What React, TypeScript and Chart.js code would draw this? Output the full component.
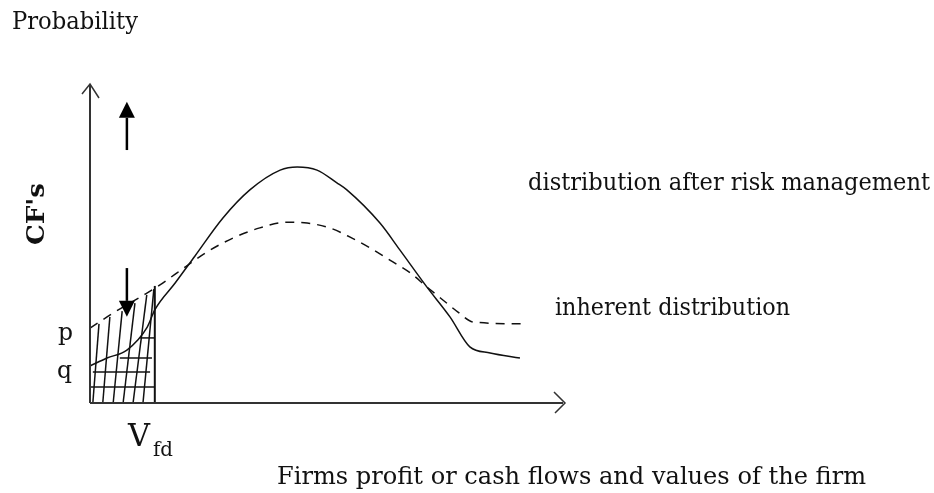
import React, { useEffect, useRef } from "react";
import { Chart, registerables } from "chart.js";

Chart.register(...registerables);

// Curves (x: position along the value axis, y: probability), both on a 0–100 scale
const solidX = [0, 3.6, 7.8, 12.1, 13.7, 18.0, 22.2, 28.1, 33.8, 40.2, 43.8, 48.0, 52.2, 54.3, 61.3, 65.5, 71.2, 76.1, 80.3, 84.6, 90.9];
const solidY = [11.6, 14.1, 16.6, 23.8, 29.2, 37.6, 46.1, 58.0, 66.8, 73.0, 74.0, 73.0, 69.0, 66.8, 56.4, 48.0, 36.4, 27.0, 17.6, 15.7, 14.1];
const dashedX = [0, 4.9, 10.6, 14.8, 18.4, 24.7, 30.2, 35.9, 41.6, 45.9, 50.7, 55.0, 59.2, 63.4, 67.7, 71.2, 74.6, 77.8, 81.0, 91.5];
const dashedY = [23.5, 28.2, 33.2, 37.0, 40.8, 47.3, 51.7, 54.9, 56.7, 56.4, 54.9, 52.0, 48.6, 44.8, 40.8, 36.4, 32.3, 28.5, 25.4, 24.8];

// Hatching below V_fd: slanted lines [x0, y0, x1, y1]
const slantHatch = [
  [0.6, 0, 1.9, 24.8],
  [2.7, 0, 4.2, 27.0],
  [4.9, 0, 6.8, 28.8],
  [7.0, 0, 9.5, 31.3],
  [9.1, 0, 12.0, 33.9],
  [11.2, 0, 13.5, 35.7],
];
// Horizontal hatch lines [y, xFrom, xTo]
const flatHatch = [
  [5.0, 0, 13.7],
  [9.7, 0.6, 12.7],
  [14.1, 6.3, 13.1],
  [20.4, 10.6, 13.7],
];
// V_fd boundary [x, yTop]
const vfdLine = [13.7, 36.7];

// Arrows [x, yFrom, yTip]
const upArrow = [7.8, 79.3, 94.4];
const downArrow = [7.8, 42.3, 27.0];

const axisMax = [100, 100];

const yTitle = "Probability";
const yLabel = "CF's";
const xTitle = "Firms profit or cash flows and values of the firm";
const solidLabel = "distribution after risk management";
const dashedLabel = "inherent distribution";
const pLabel = "p";
const qLabel = "q";
const vLabel = "V";
const vSub = "fd";

const INK = "#111";
const FAMILY = '"DejaVu Serif", serif';

function fitText(
  ctx: CanvasRenderingContext2D,
  text: string,
  x: number,
  y: number,
  width: number,
  size: number,
  weight = "normal",
  rotate = 0
) {
  ctx.save();
  ctx.font = `${weight} ${size}px ${FAMILY}`;
  const w = ctx.measureText(text).width;
  ctx.translate(x, y);
  if (rotate) ctx.rotate(rotate);
  ctx.scale(width / w, 1);
  ctx.fillStyle = INK;
  ctx.textBaseline = "alphabetic";
  ctx.textAlign = "left";
  ctx.fillText(text, 0, 0);
  ctx.restore();
}

const decorPlugin = {
  id: "decor",
  afterDatasetsDraw(chart: any) {
    const ctx: CanvasRenderingContext2D = chart.ctx;
    const xs = chart.scales.x;
    const ys = chart.scales.y;
    const X = (v: number) => xs.getPixelForValue(v);
    const Y = (v: number) => ys.getPixelForValue(v);

    // Axes
    ctx.save();
    ctx.strokeStyle = "#333";
    ctx.lineWidth = 2;
    ctx.beginPath();
    ctx.moveTo(X(0), Y(0));
    ctx.lineTo(X(0), Y(axisMax[1]));
    ctx.moveTo(X(0), Y(0));
    ctx.lineTo(X(axisMax[0]), Y(0));
    ctx.stroke();
    // open arrow heads
    ctx.lineWidth = 1.5;
    ctx.beginPath();
    const tx = X(0), ty = Y(axisMax[1]);
    ctx.moveTo(tx - 8, ty + 10);
    ctx.lineTo(tx, ty);
    ctx.lineTo(tx + 9, ty + 14);
    const rx = X(axisMax[0]) + 2, ry = Y(0);
    ctx.moveTo(rx - 11, ry - 11);
    ctx.lineTo(rx, ry);
    ctx.lineTo(rx - 10, ry + 10);
    ctx.stroke();
    ctx.restore();

    // Solid arrows
    const drawArrow = (a: number[]) => {
      const x = X(a[0]);
      const y0 = Y(a[1]);
      const y1 = Y(a[2]);
      const dir = y1 < y0 ? -1 : 1;
      const head = 16;
      ctx.save();
      ctx.strokeStyle = "#000";
      ctx.fillStyle = "#000";
      ctx.lineWidth = 2.5;
      ctx.beginPath();
      ctx.moveTo(x, y0);
      ctx.lineTo(x, y1 - dir * head);
      ctx.stroke();
      ctx.beginPath();
      ctx.moveTo(x, y1);
      ctx.lineTo(x - 8, y1 - dir * head);
      ctx.lineTo(x + 8, y1 - dir * head);
      ctx.closePath();
      ctx.fill();
      ctx.restore();
    };
    drawArrow(upArrow);
    drawArrow(downArrow);

    // Texts
    fitText(ctx, yTitle, 12, 29, 126, 25);
    fitText(ctx, yLabel, 44, 245, 62, 25, "bold", -Math.PI / 2);
    fitText(ctx, pLabel, 58, 340, 15, 25);
    fitText(ctx, qLabel, 57, 378, 15, 25);
    fitText(ctx, vLabel, 128, 446, 22, 31);
    fitText(ctx, vSub, 153, 456, 20, 20);
    fitText(ctx, solidLabel, 528, 190, 402, 25);
    fitText(ctx, dashedLabel, 555, 315, 235, 25);
    fitText(ctx, xTitle, 277, 484, 589, 25);
  },
};

export default function App() {
  const ref = useRef<HTMLCanvasElement | null>(null);

  useEffect(() => {
    if (!ref.current) return;
    const line = (pts: { x: number; y: number }[], extra: any = {}) => ({
      data: pts,
      showLine: true,
      borderColor: INK,
      borderWidth: 1.5,
      pointRadius: 0,
      fill: false,
      clip: false,
      ...extra,
    });

    const datasets: any[] = [
      line(solidX.map((x, i) => ({ x, y: solidY[i] })), {
        borderWidth: 1.5,
        cubicInterpolationMode: "monotone",
      }),
      line(dashedX.map((x, i) => ({ x, y: dashedY[i] })), {
        borderWidth: 1.5,
        borderDash: [9, 7],
        cubicInterpolationMode: "monotone",
      }),
      ...slantHatch.map((s) =>
        line([
          { x: s[0], y: s[1] },
          { x: s[2], y: s[3] },
        ])
      ),
      ...flatHatch.map((h) =>
        line([
          { x: h[1], y: h[0] },
          { x: h[2], y: h[0] },
        ])
      ),
      line(
        [
          { x: vfdLine[0], y: 0 },
          { x: vfdLine[0], y: vfdLine[1] },
        ],
        { borderWidth: 2 }
      ),
    ];

    const chart = new Chart(ref.current, {
      type: "scatter",
      data: { datasets },
      options: {
        responsive: false,
        animation: false,
        devicePixelRatio: 1,
        layout: { padding: { left: 90, top: 84, right: 371, bottom: 90 } },
        plugins: { legend: { display: false }, tooltip: { enabled: false } },
        events: [],
        scales: {
          x: { type: "linear", min: 0, max: axisMax[0], display: false },
          y: { type: "linear", min: 0, max: axisMax[1], display: false },
        },
      },
      plugins: [decorPlugin],
    } as any);

    return () => chart.destroy();
  }, []);

  return (
    <div style={{ position: "absolute", left: 0, top: 0, width: 934, height: 493, background: "#fff" }}>
      <canvas ref={ref} width={934} height={493} />
    </div>
  );
}
